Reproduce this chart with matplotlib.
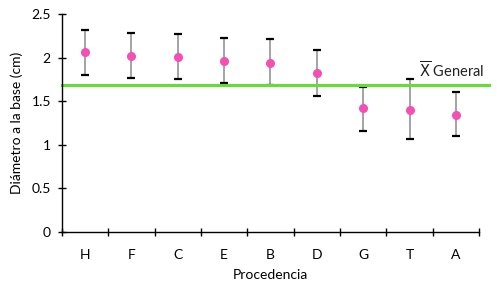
import matplotlib.pyplot as plt
import numpy as np

plt.rcParams['font.family'] = ['Lato', 'DejaVu Sans']

procedencia = ["H", "F", "C", "E", "B", "D", "G", "T", "A"]
media = [2.06, 2.02, 2.01, 1.96, 1.94, 1.82, 1.42, 1.40, 1.34]
err_sup = [2.32, 2.28, 2.27, 2.22, 2.21, 2.09, 1.66, 1.75, 1.60]
err_inf = [1.80, 1.77, 1.75, 1.71, 1.69, 1.56, 1.16, 1.07, 1.10]
media_general = 1.69

x = np.arange(len(procedencia))
yerr = [np.array(media) - np.array(err_inf), np.array(err_sup) - np.array(media)]

fig = plt.figure(figsize=(4.97, 2.88), dpi=100)
ax = fig.add_axes([0.1247, 0.1944, 0.8391, 0.757])

ax.axhline(media_general, xmin=0, xmax=1.024, color="#66DD33", lw=2.2,
           clip_on=False, zorder=2.5)
ax.text(8.6, media_general + 0.04, r"$\overline{\mathrm{X}}$ General", ha="right",
        va="bottom", fontsize=10.5, color="#222222")

linea, caps, barras = ax.errorbar(x, media, yerr=yerr, fmt="o", color="#F54FB5",
                                  markersize=5.5, ecolor="#8a8a8a", elinewidth=1.1,
                                  capsize=3.2, capthick=1.6, zorder=3)
for c in caps:
    c.set_markeredgecolor("black")
    c.set_color("black")
    c.set_zorder(2)
for b in barras:
    b.set_zorder(2)

ax.set_xlim(-0.5, 8.5)
ax.set_ylim(0, 2.5)
ax.set_yticks([0, 0.5, 1, 1.5, 2, 2.5])
ax.set_yticklabels(["0", "0.5", "1", "1.5", "2", "2.5"])
ax.set_xticks(x)
ax.set_xticklabels(procedencia)
ax.set_xticks(np.arange(-0.5, 9, 1), minor=True)
ax.tick_params(axis="x", which="major", length=0, pad=12, labelsize=10)
ax.tick_params(axis="x", which="minor", direction="inout", length=6, width=1)
ax.tick_params(axis="y", direction="inout", length=6, width=1, pad=5, labelsize=10)

for s in ["top", "right"]:
    ax.spines[s].set_visible(False)
for s in ["left", "bottom"]:
    ax.spines[s].set_linewidth(1)

ax.set_xlabel("Procedencia", fontsize=10, labelpad=6)
ax.set_ylabel("Diámetro a la base (cm)", fontsize=10, labelpad=6)

fig.savefig("out.png", dpi=100)
